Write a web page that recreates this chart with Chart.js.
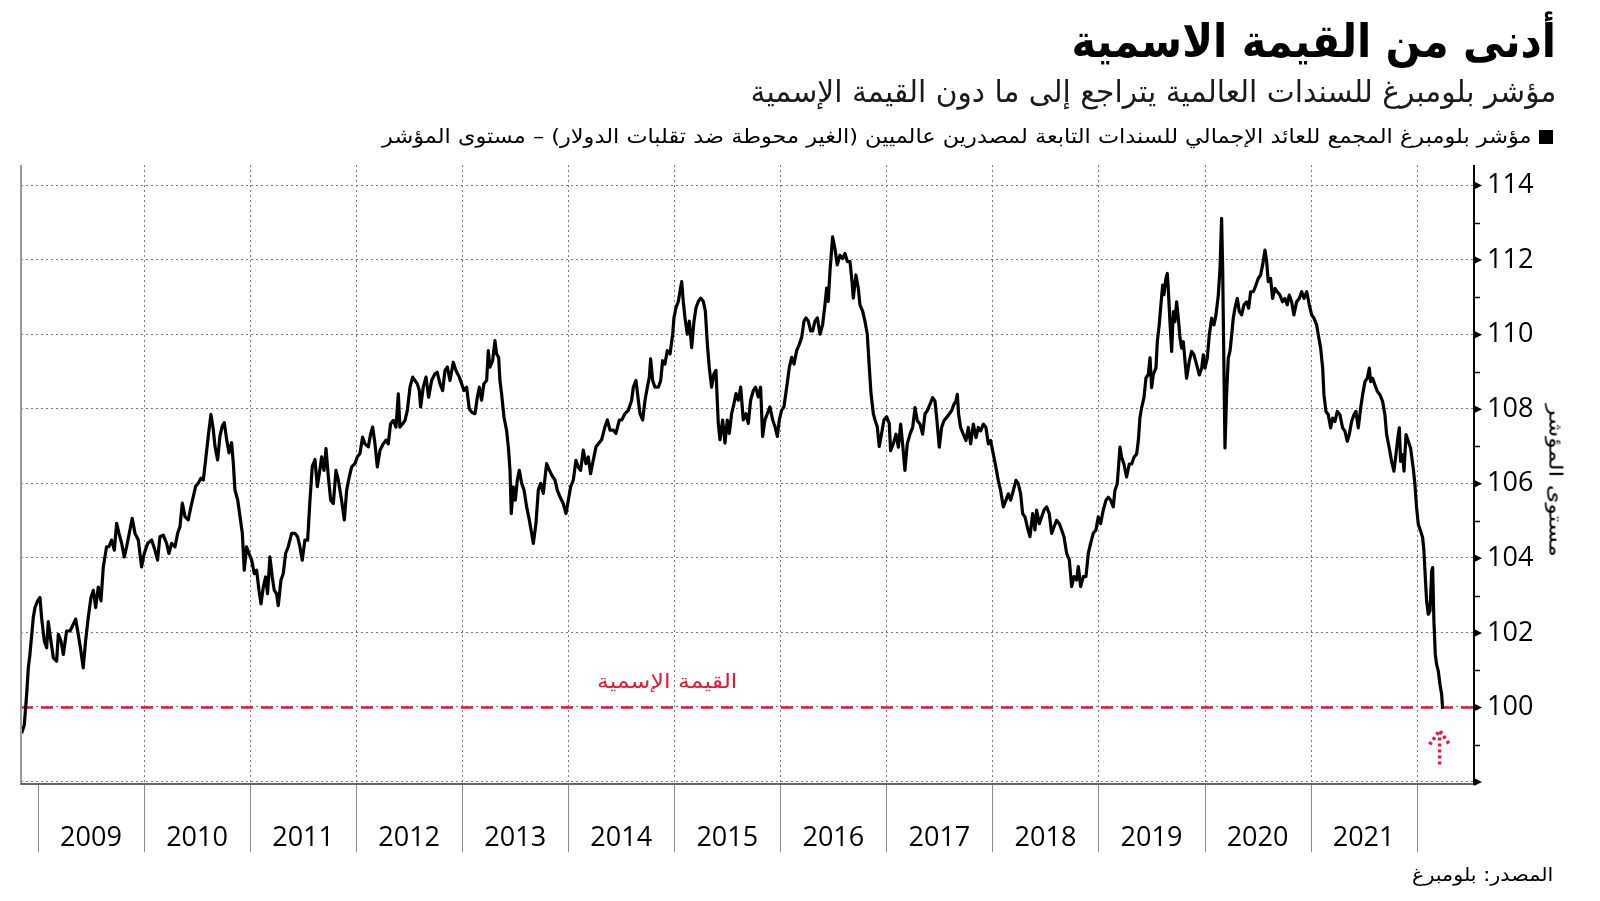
<!DOCTYPE html>
<html lang="ar">
<head>
<meta charset="utf-8">
<script src="https://cdn.jsdelivr.net/npm/chart.js@4/dist/chart.umd.min.js"></script>
<style>
html,body{margin:0;padding:0;background:#fff;}
#wrap{position:relative;width:1600px;height:901px;overflow:hidden;background:#fff;}
canvas{position:absolute;left:0;top:0;}
.t{position:absolute;left:0;top:0;white-space:nowrap;direction:rtl;font-family:"DejaVu Sans",sans-serif;line-height:1;}
</style>
</head>
<body>
<div id="wrap">
<canvas id="c" width="1600" height="901"></canvas>
<div class="t" id="title" style="font-weight:bold;font-size:46px;color:#000;">أدنى من القيمة الاسمية</div>
<div class="t" id="subtitle" style="font-size:30px;color:#1a1a1a;">مؤشر بلومبرغ للسندات العالمية يتراجع إلى ما دون القيمة الإسمية</div>
<div id="legSq" style="position:absolute;left:1539px;top:130px;width:14px;height:14px;background:#000;"></div>
<div class="t" id="legend" style="font-size:20px;color:#000;">مؤشر بلومبرغ المجمع للعائد الإجمالي للسندات التابعة لمصدرين عالميين (الغير محوطة ضد تقلبات الدولار) – مستوى المؤشر</div>
<div class="t" id="ytitle" style="font-size:19px;color:#000;">مستوى المؤشر</div>
<div class="t" id="parlabel" style="font-size:20px;color:#e2183d;">القيمة الإسمية</div>
<div class="t" id="source" style="font-size:19px;color:#000;">المصدر: بلومبرغ</div>
</div>
<script>
// ---------- DATA ----------
const yearLabels = [2009,2010,2011,2012,2013,2014,2015,2016,2017,2018,2019,2020,2021];
const yearBounds = [2009,2010,2011,2012,2013,2014,2015,2016,2017,2018,2019,2020,2021,2022];
const yTickValues = [100,102,104,106,108,110,112,114];
const yMinorValues = [99,101,103,105,107,109,111,113];
const gridValues = [98,100,102,104,106,108,110,112,114];
const parValue = 100;

// decimal-year dates of the index readings
const dates = [
 2008.846,2008.871,2008.893,2008.909,2008.924,2008.956,2008.972,2008.997,2009.019,2009.034,
 2009.060,2009.082,2009.097,2009.122,2009.145,2009.176,2009.192,2009.217,2009.239,2009.270,
 2009.302,2009.333,2009.355,2009.380,2009.405,2009.427,2009.449,2009.474,2009.500,2009.522,
 2009.544,2009.569,2009.594,2009.616,2009.647,2009.669,2009.694,2009.720,2009.742,2009.764,
 2009.789,2009.814,2009.836,2009.867,2009.889,2009.915,2009.946,2009.977,2010.002,2010.034,
 2010.072,2010.103,2010.128,2010.150,2010.182,2010.213,2010.235,2010.260,2010.292,2010.317,
 2010.339,2010.361,2010.386,2010.417,2010.443,2010.465,2010.487,2010.512,2010.537,2010.559,
 2010.581,2010.606,2010.631,2010.653,2010.669,2010.694,2010.716,2010.738,2010.757,2010.779,
 2010.801,2010.826,2010.842,2010.857,2010.883,2010.905,2010.927,2010.945,2010.967,2010.989,
 2011.015,2011.040,2011.062,2011.084,2011.103,2011.125,2011.147,2011.165,2011.187,2011.209,
 2011.228,2011.250,2011.266,2011.291,2011.313,2011.335,2011.360,2011.392,2011.423,2011.448,
 2011.470,2011.492,2011.517,2011.543,2011.565,2011.587,2011.612,
 2011.634,2011.653,2011.675,2011.697,2011.716,2011.738,2011.760,2011.785,2011.810,2011.832,
 2011.863,2011.889,2011.911,2011.936,2011.958,2011.989,2012.011,2012.036,2012.061,2012.083,
 2012.115,2012.137,2012.156,2012.178,2012.200,2012.225,2012.256,2012.281,2012.303,2012.325,
 2012.351,2012.376,2012.398,2012.413,2012.439,2012.461,2012.483,2012.508,2012.533,2012.555,
 2012.577,2012.596,2012.608,2012.633,2012.659,2012.684,2012.712,2012.743,2012.765,2012.791,
 2012.816,2012.838,2012.860,2012.885,2012.916,2012.941,2012.973,2012.995,2013.017,2013.042,
 2013.067,2013.089,2013.121,2013.143,2013.162,2013.183,2013.205,2013.231,2013.246,2013.262,
 2013.287,2013.309,2013.325,2013.344,2013.356,2013.372,2013.394,2013.419,2013.438,2013.451,
 2013.463,2013.482,2013.501,2013.520,2013.539,2013.561,2013.583,2013.608,2013.633,2013.655,
 2013.671,2013.696,2013.718,2013.740,2013.765,2013.796,2013.822,2013.853,2013.875,2013.897,
 2013.922,2013.953,2013.979,2014.001,2014.023,2014.048,2014.073,2014.095,2014.117,2014.142,
 2014.167,2014.189,2014.211,2014.236,2014.262,
 2014.315,2014.347,2014.369,2014.394,2014.425,2014.450,2014.482,2014.504,2014.535,2014.567,
 2014.598,2014.614,2014.639,2014.661,2014.677,2014.702,2014.724,2014.746,2014.765,2014.777,
 2014.796,2014.818,2014.850,2014.872,2014.890,2014.912,2014.934,2014.960,2014.985,2014.997,
 2015.016,2015.038,2015.054,2015.070,2015.085,2015.101,2015.123,2015.142,2015.164,2015.186,
 2015.205,2015.227,2015.249,2015.274,2015.293,2015.312,2015.330,2015.352,2015.374,2015.393,
 2015.415,2015.431,2015.456,2015.478,2015.500,2015.519,2015.541,2015.563,2015.582,2015.604,
 2015.626,2015.651,2015.676,2015.698,2015.720,2015.745,2015.767,2015.792,2015.814,2015.833,
 2015.855,2015.877,2015.902,2015.928,2015.950,2015.972,2015.990,2016.012,2016.034,2016.060,
 2016.085,2016.107,2016.129,2016.154,2016.179,2016.201,2016.223,2016.242,2016.264,2016.286,
 2016.305,2016.327,2016.349,2016.374,2016.399,2016.421,2016.437,2016.452,2016.468,2016.493,
 2016.515,2016.537,2016.562,2016.588,2016.610,2016.632,2016.657,2016.676,2016.688,2016.713,
 2016.735,2016.751,2016.776,2016.798,2016.820,2016.839,2016.855,2016.877,2016.893,2016.914,
 2016.933,2016.955,2016.977,2017.002,2017.027,
 2017.040,2017.065,2017.091,2017.113,2017.135,2017.153,2017.175,2017.197,2017.223,2017.248,
 2017.270,2017.292,2017.317,2017.342,2017.364,2017.386,2017.411,2017.436,2017.458,2017.474,
 2017.499,2017.521,2017.543,2017.568,2017.593,2017.615,2017.637,2017.656,2017.669,2017.681,
 2017.700,2017.725,2017.751,2017.773,2017.795,2017.820,2017.845,2017.867,2017.889,2017.914,
 2017.939,2017.961,2017.983,2018.008,2018.033,2018.055,2018.077,2018.103,2018.128,2018.150,
 2018.172,2018.197,2018.222,2018.244,2018.266,2018.285,2018.307,2018.329,2018.354,2018.379,
 2018.401,2018.417,2018.442,2018.464,2018.486,2018.511,2018.536,2018.558,2018.580,2018.605,
 2018.631,2018.653,2018.675,2018.700,2018.725,2018.747,2018.769,2018.794,2018.810,2018.832,
 2018.857,2018.882,2018.904,2018.926,2018.951,2018.976,2018.998,2019.020,2019.045,2019.071,
 2019.093,2019.115,2019.140,2019.155,2019.177,2019.203,2019.218,2019.240,2019.265,2019.291,
 2019.313,2019.335,2019.360,2019.376,2019.391,2019.407,2019.429,2019.448,2019.470,2019.486,
 2019.501,2019.517,2019.542,2019.555,2019.573,2019.586,2019.605,2019.617,2019.636,2019.649,
 2019.658,2019.674,2019.690,2019.706,2019.721,2019.737,2019.753,2019.769,2019.784,2019.800,
 2019.816,2019.831,2019.856,2019.878,2019.900,2019.926,2019.951,2019.973,2019.989,2020.004,
 2020.026,2020.045,2020.067,2020.089,2020.108,2020.130,2020.146,2020.161,2020.171,2020.183,
 2020.193,2020.208,2020.224,2020.240,2020.256,2020.271,2020.287,2020.309,2020.328,2020.350,
 2020.372,2020.397,2020.416,2020.435,2020.460,2020.485,2020.507,2020.529,2020.548,2020.570,
 2020.586,2020.601,2020.623,2020.642,2020.664,2020.686,2020.711,2020.736,2020.758,2020.780,
 2020.799,2020.821,2020.843,2020.868,2020.893,2020.916,2020.938,2020.963,2020.988,2021.010,
 2021.032,2021.057,2021.073,2021.095,2021.114,2021.126,2021.145,2021.167,2021.189,2021.208,
 2021.230,2021.252,2021.277,2021.302,2021.324,2021.346,2021.365,2021.387,2021.409,2021.428,
 2021.450,2021.472,2021.491,2021.513,2021.535,2021.554,2021.566,2021.585,2021.607,2021.629,
 2021.654,2021.679,2021.701,2021.717,2021.742,2021.764,2021.786,2021.805,2021.827,2021.837,
 2021.849,2021.868,2021.881,2021.900,2021.921,2021.943,2021.968,2021.984,2022.000,2022.016,
 2022.038,2022.057,2022.069,2022.082,2022.094,2022.110,2022.126,2022.142,2022.151,2022.163,
 2022.176,2022.188,2022.204,2022.220,2022.236,2022.245
];

// index level readings (same order as dates)
const indexLevel = [
 99.31,99.53,100.34,101.06,101.42,102.41,102.68,102.86,102.95,102.41,
 101.78,101.60,102.30,101.78,101.33,101.24,101.96,101.78,101.42,102.05,
 102.05,102.23,102.37,101.96,101.51,101.06,101.78,102.41,102.95,103.14,
 102.68,103.23,102.86,103.77,104.31,104.31,104.49,104.22,104.94,104.67,
 104.40,104.04,104.31,104.76,105.07,104.67,104.49,103.77,104.13,104.40,
 104.49,104.22,103.95,104.58,104.62,104.40,104.13,104.40,104.31,104.67,
 104.85,105.48,105.12,105.03,105.39,105.66,105.93,106.02,106.15,106.10,
 106.64,107.28,107.86,107.46,107.01,106.64,107.28,107.55,107.64,107.19,
 106.83,107.10,106.56,105.84,105.57,105.12,104.67,103.68,104.31,104.13,
 103.95,103.59,103.68,103.14,102.78,103.23,103.50,103.05,104.04,103.50,
 103.14,103.05,102.73,103.41,103.59,104.13,104.31,104.67,104.67,104.58,
 104.31,103.95,104.49,104.49,105.57,106.47,106.65,
 105.92,106.27,106.72,106.36,106.94,106.19,105.56,105.47,106.36,106.10,
 105.56,105.03,105.83,106.19,106.45,106.54,106.72,106.81,107.25,107.07,
 106.99,107.34,107.52,107.07,106.45,106.90,107.07,107.17,107.07,107.61,
 107.70,107.52,108.41,107.52,107.61,107.70,107.97,108.59,108.86,108.77,
 108.68,108.50,108.06,108.59,108.86,108.32,108.77,108.95,108.99,108.68,
 108.50,109.04,109.13,108.77,109.26,109.04,108.86,108.68,108.50,108.59,
 108.01,107.92,107.88,108.32,108.59,108.24,108.68,108.77,109.57,109.13,
 109.30,109.84,109.48,109.39,108.77,108.41,107.79,107.43,106.90,106.36,
 105.20,105.92,105.56,106.10,106.36,106.01,105.83,105.38,105.03,104.67,
 104.40,104.94,105.83,106.01,105.74,106.54,106.36,106.19,106.10,105.83,
 105.65,105.47,105.20,105.56,105.92,106.10,106.63,106.45,106.36,106.90,
 106.54,106.72,106.27,106.63,106.99,
 107.18,107.53,107.71,107.44,107.44,107.35,107.71,107.71,107.88,107.97,
 108.24,108.59,108.77,108.24,107.88,107.71,108.24,108.59,108.86,109.35,
 108.77,108.59,108.59,108.77,109.30,109.21,109.57,109.48,110.01,110.45,
 110.72,110.89,111.16,111.42,110.89,110.45,110.01,110.36,109.65,110.36,
 110.72,110.89,110.98,110.89,110.63,109.74,109.12,108.59,108.95,109.04,
 107.62,107.18,107.71,107.09,107.71,107.35,107.88,108.15,108.42,108.24,
 108.59,107.71,107.88,107.62,108.24,108.50,108.59,108.33,108.59,107.27,
 107.71,107.88,108.06,107.71,107.53,107.27,107.71,107.97,108.06,108.59,
 109.12,109.39,109.21,109.57,109.74,109.92,110.36,110.45,110.36,110.10,
 110.10,110.36,110.45,110.01,110.27,110.80,111.25,110.89,111.69,112.62,
 112.31,111.87,112.13,112.04,112.18,111.96,111.96,111.42,110.98,111.60,
 111.25,110.80,110.63,110.36,110.01,109.12,108.42,107.88,107.71,107.53,
 107.00,107.35,107.71,107.80,107.62,
 106.89,107.07,107.33,106.98,107.60,107.07,106.36,107.07,107.33,107.51,
 108.04,107.69,107.60,107.33,107.87,107.96,108.13,108.31,108.22,107.78,
 106.98,107.51,107.69,107.78,107.87,107.96,108.13,108.22,108.40,107.87,
 107.51,107.33,107.16,107.51,107.07,107.60,107.24,107.51,107.42,107.60,
 107.51,107.07,107.16,106.80,106.44,106.09,105.82,105.38,105.56,105.73,
 105.56,105.82,106.09,106.00,105.73,105.20,105.11,104.84,104.58,105.20,
 104.76,105.29,104.93,105.11,105.29,105.38,105.20,104.67,104.84,105.02,
 104.93,104.76,104.58,104.13,103.96,103.24,103.51,103.42,103.78,103.24,
 103.51,103.51,104.13,104.40,104.67,104.76,105.11,104.93,105.29,105.56,
 105.64,105.56,105.38,105.82,106.00,106.98,106.71,106.53,106.18,106.53,
 106.53,106.71,106.80,107.16,107.78,108.04,108.31,108.84,108.93,109.38,
 108.58,108.93,109.11,109.82,110.27,110.71,111.33,111.07,111.51,111.64,
 111.24,110.35,109.55,110.62,110.35,110.88,110.44,109.90,109.64,109.81,
 109.28,108.83,109.28,109.55,109.46,109.19,108.92,109.10,109.46,109.10,
 109.37,109.99,110.44,110.26,110.53,111.06,111.78,113.12,111.78,109.10,
 106.96,108.39,109.37,109.55,109.99,110.44,110.71,110.97,110.62,110.53,
 110.80,110.88,110.71,111.15,111.15,111.33,111.51,111.60,111.87,112.27,
 111.96,111.42,111.51,110.97,111.24,111.15,111.06,110.88,110.97,110.80,
 111.06,110.88,110.53,110.88,110.97,111.15,110.97,111.15,110.80,110.53,
 110.44,110.26,109.99,109.64,109.10,108.39,107.94,107.85,107.50,107.76,
 107.67,107.94,107.85,107.50,107.41,107.14,107.32,107.67,107.85,107.94,
 107.50,108.03,108.39,108.74,108.83,109.10,108.74,108.83,108.65,108.48,
 108.39,108.21,107.85,107.32,106.96,106.60,106.34,106.78,107.32,107.50,
 106.60,106.78,106.34,107.32,107.14,106.96,106.42,105.98,105.35,104.91,
 104.73,104.55,104.19,103.48,102.86,102.50,102.59,103.66,103.75,102.32,
 101.43,101.16,100.98,100.62,100.35,99.96
];

// ---------- CHART ----------
const X_MIN = 2008.84, X_MAX = 2022.541;
const Y_MIN = 98, Y_MAX = 114.55;
const RED = '#e2183d';
const arrowTip = 99.38, arrowBase = 98.47;

const n = Math.min(dates.length, indexLevel.length);
const seriesPoints = [];
for (let i = 0; i < n; i++) seriesPoints.push({x: dates[i], y: indexLevel[i]});

const decor = {
  id: 'decor',
  beforeDatasetsDraw(chart) {
    const {ctx, chartArea: a, scales: {x, y}} = chart;
    ctx.save();
    ctx.strokeStyle = '#7a7a7a';
    ctx.lineWidth = 1;
    ctx.setLineDash([2, 3]);
    gridValues.forEach(v => {
      const py = Math.round(y.getPixelForValue(v)) - 0.5;
      ctx.beginPath(); ctx.moveTo(a.left, py); ctx.lineTo(a.right, py); ctx.stroke();
    });
    yearBounds.slice(1).forEach(yr => {
      const px = Math.round(x.getPixelForValue(yr)) + 0.5;
      ctx.beginPath(); ctx.moveTo(px, a.top); ctx.lineTo(px, a.bottom); ctx.stroke();
    });
    ctx.restore();
  },
  afterDatasetsDraw(chart) {
    const {ctx, chartArea: a, scales: {x, y}} = chart;
    ctx.save();
    ctx.setLineDash([]);
    // left border
    ctx.strokeStyle = '#9a9a9a'; ctx.lineWidth = 2;
    ctx.beginPath(); ctx.moveTo(a.left, a.top); ctx.lineTo(a.left, a.bottom + 3); ctx.stroke();
    // bottom axis line
    ctx.strokeStyle = '#333'; ctx.lineWidth = 1.5;
    ctx.beginPath(); ctx.moveTo(a.left, a.bottom + 2); ctx.lineTo(a.right, a.bottom + 2); ctx.stroke();
    // year separators below axis
    ctx.strokeStyle = '#8a8a8a'; ctx.lineWidth = 1;
    yearBounds.forEach(yr => {
      const px = Math.round(x.getPixelForValue(yr)) + 0.5;
      ctx.beginPath(); ctx.moveTo(px, a.bottom + 3); ctx.lineTo(px, a.bottom + 70); ctx.stroke();
    });
    // right axis
    ctx.strokeStyle = '#000'; ctx.lineWidth = 2;
    ctx.beginPath(); ctx.moveTo(a.right, a.top); ctx.lineTo(a.right, a.bottom + 3); ctx.stroke();
    ctx.fillStyle = '#000';
    gridValues.forEach(v => {
      const py = y.getPixelForValue(v);
      ctx.beginPath();
      ctx.moveTo(a.right, py - 4); ctx.lineTo(a.right + 8, py); ctx.lineTo(a.right, py + 4);
      ctx.closePath(); ctx.fill();
    });
    ctx.lineWidth = 1.5;
    yMinorValues.forEach(v => {
      const py = Math.round(y.getPixelForValue(v)) + 0.5;
      ctx.beginPath(); ctx.moveTo(a.right, py); ctx.lineTo(a.right + 6, py); ctx.stroke();
    });
    // red dotted arrow under the last reading
    const ax = x.getPixelForValue(dates[n - 1]) - 3;
    const tipY = y.getPixelForValue(arrowTip);
    const baseY = y.getPixelForValue(arrowBase);
    ctx.strokeStyle = RED; ctx.lineWidth = 3.5; ctx.setLineDash([3, 3]);
    ctx.beginPath(); ctx.moveTo(ax, baseY); ctx.lineTo(ax, tipY + 3); ctx.stroke();
    ctx.beginPath(); ctx.moveTo(ax - 10, tipY + 14); ctx.lineTo(ax, tipY); ctx.lineTo(ax + 10, tipY + 14); ctx.stroke();
    ctx.restore();
  }
};

new Chart(document.getElementById('c').getContext('2d'), {
  type: 'line',
  data: {
    datasets: [
      {label: 'مستوى المؤشر', data: seriesPoints, borderColor: '#000', borderWidth: 3.2,
       pointRadius: 0, tension: 0, order: 1, borderJoinStyle: 'round'},
      {label: 'القيمة الإسمية', data: [{x: X_MIN, y: parValue}, {x: X_MAX, y: parValue}],
       borderColor: RED, borderWidth: 2.5, borderDash: [12, 8], pointRadius: 0, order: 2}
    ]
  },
  options: {
    responsive: false, animation: false, devicePixelRatio: 1,
    layout: {padding: {left: 21, top: 165, right: 0, bottom: 0}},
    plugins: {legend: {display: false}, tooltip: {enabled: false}, title: {display: false}},
    scales: {
      x: {
        type: 'linear', min: X_MIN, max: X_MAX,
        grid: {display: false, drawTicks: false}, border: {display: false},
        afterBuildTicks: s => { s.ticks = yearLabels.map(yv => ({value: yv + 0.5})); },
        afterFit: s => { s.height = 119; },
        ticks: {autoSkip: false, maxRotation: 0, padding: 40, color: '#000',
                font: {family: 'Open Sans', size: 27},
                callback: (v, i) => String(yearLabels[i])}
      },
      y: {
        position: 'right', min: Y_MIN, max: Y_MAX,
        grid: {display: false, drawTicks: false}, border: {display: false},
        afterBuildTicks: s => { s.ticks = yTickValues.map(v => ({value: v})); },
        afterFit: s => { s.width = 126; },
        ticks: {padding: 13, color: '#000', font: {family: 'Open Sans', size: 27},
                callback: v => String(v)}
      }
    }
  },
  plugins: [decor]
});

// ---------- TEXT PLACEMENT ----------
function place(id, o) {
  const el = document.getElementById(id);
  const w = el.offsetWidth, h = el.offsetHeight;
  const k = o.width / w;
  const cx = (o.cx !== undefined) ? o.cx : o.right - o.width / 2;
  el.style.left = (cx - w / 2) + 'px';
  el.style.top = (o.cy - h / 2) + 'px';
  el.style.transformOrigin = '50% 50%';
  el.style.transform = (o.rot ? 'rotate(' + o.rot + 'deg) ' : '') + 'scaleX(' + k + ')';
}
function layoutText() {
  place('title', {right: 1556, cy: 41, width: 485});
  place('subtitle', {right: 1556, cy: 92, width: 806});
  place('legend', {right: 1532, cy: 136, width: 1150});
  place('ytitle', {cx: 1556, cy: 480, width: 153, rot: 90});
  place('parlabel', {cx: 667, cy: 681, width: 141});
  place('source', {right: 1553, cy: 874, width: 141});
}
layoutText();
if (document.fonts && document.fonts.ready) document.fonts.ready.then(layoutText);
</script>
</body>
</html>
